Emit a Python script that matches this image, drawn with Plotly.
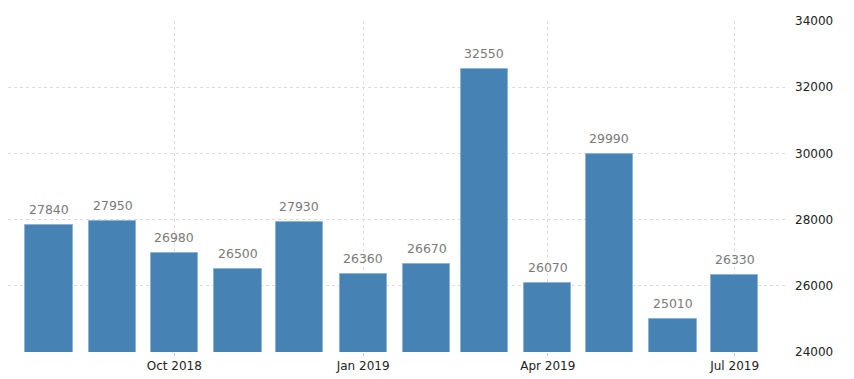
import plotly.graph_objects as go

months = ["2018-08-01", "2018-09-01", "2018-10-01", "2018-11-01", "2018-12-01", "2019-01-01",
          "2019-02-01", "2019-03-01", "2019-04-01", "2019-05-01", "2019-06-01", "2019-07-01"]
values = [27840, 27950, 26980, 26500, 27930, 26360, 26670, 32550, 26070, 29990, 25010, 26330]
tick_dates = ["2018-10-01", "2019-01-01", "2019-04-01", "2019-07-01"]
tick_labels = ["Oct 2018", "Jan 2019", "Apr 2019", "Jul 2019"]
y_ticks = [24000, 26000, 28000, 30000, 32000, 34000]
y_labels = ["24000", "26000", "28000", "30000", "32000", "34000"]

FONT = "DejaVu Sans"

fig = go.Figure(go.Bar(
    x=months, y=values,
    width=[23 * 86400000] * len(months),
    marker=dict(color="#4682b4", line=dict(color="#8fb3d4", width=1)),
    cliponaxis=False,
))

for m, v in zip(months, values):
    fig.add_annotation(x=m, y=v, text=str(v), showarrow=False,
                       yanchor="bottom", yshift=6,
                       font=dict(color="#7a7a7a", size=12.5, family=FONT))

fig.update_layout(
    width=846, height=371,
    margin=dict(l=0, r=66, t=13, b=27, autoexpand=False),
    plot_bgcolor="white", paper_bgcolor="white",
    showlegend=False,
    font=dict(family=FONT, size=12, color="#333333"),
    xaxis=dict(type="date", range=["2018-07-12", "2019-07-27"],
               tickvals=tick_dates, ticktext=tick_labels, automargin=False,
               showgrid=True, gridcolor="#dcdcdc", griddash="dot",
               ticks="outside", ticklen=3, tickcolor="#cccccc",
               showline=False, zeroline=False, tickfont=dict(size=12, color="#222222")),
    yaxis=dict(side="right", range=[24000, 34000], tickvals=y_ticks, ticktext=y_labels,
               automargin=False,
               showgrid=True, gridcolor="#dcdcdc", griddash="dot",
               zeroline=False, showline=False, ticks="", ticklabelstandoff=6,
               tickfont=dict(size=12, color="#222222")),
    bargap=0,
)

fig.write_html("out.html")
